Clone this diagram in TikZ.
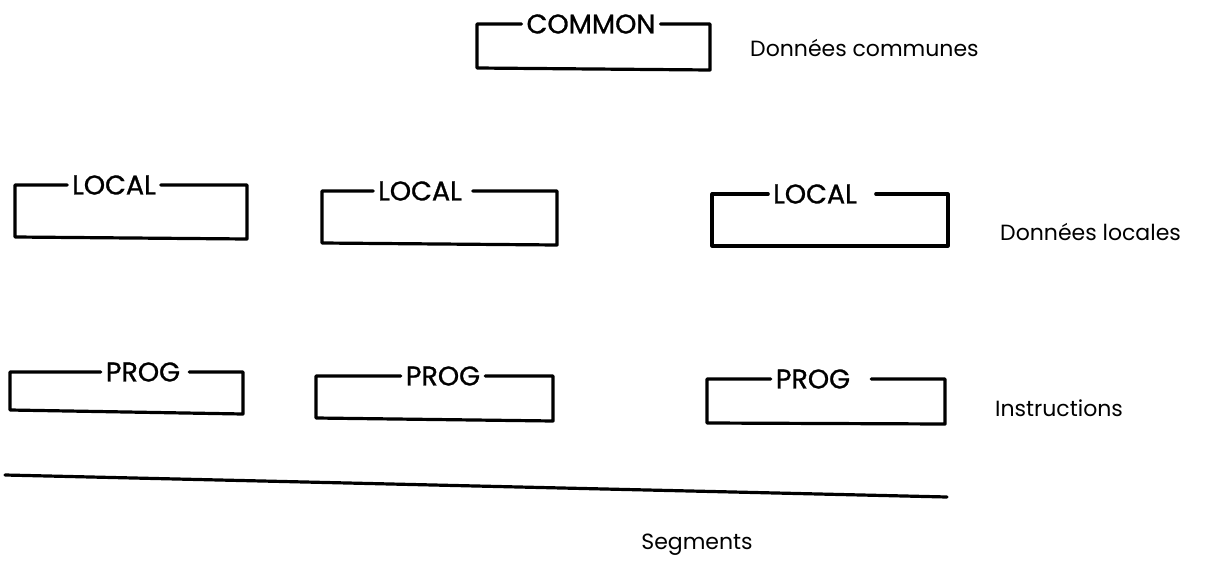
\documentclass[tikz,border=0pt]{standalone}
\usepackage{fontspec}
\setmainfont{Poppins}
\newfontfamily\boxfont{Poppins}[FakeBold=1]
\usepackage{tikz}
\usetikzlibrary{positioning}

\begin{document}
\begin{tikzpicture}[x=1pt,y=-1pt]
  \tikzset{BoxLabelStyle/.style = {
    inner sep     = 5pt,
    outer sep     = 0pt,
    text          = black,
    font          = \boxfont\fontsize{27}{30}\selectfont
    }
  }
  \tikzset{BoxEdgeStyle/.style = {
    draw          = black,
    line width    = 3.2pt,
    line join     = round,
    line cap      = round
    }
  }
  \tikzset{SideTextStyle/.style = {
    anchor        = west,
    inner sep     = 0pt,
    text          = black,
    font          = \fontsize{22}{26}\selectfont
    }
  }
  \useasboundingbox (0,0) rectangle (1208,570);

	% common block
	\node[BoxLabelStyle](common) at (591, 24) {COMMON};
	\draw[BoxEdgeStyle](common.west) -- (477, 24) -- (477, 68) -- (710, 70) -- (710, 24) -- (common.east);
	\node[SideTextStyle](dcom) at (750, 48) {Données communes};

	% local blocks
	\node[BoxLabelStyle](loc1) at (114, 185) {LOCAL};
	\node[BoxLabelStyle](loc2) at (420, 191) {LOCAL};
	\node[BoxLabelStyle](loc3) at (815, 194) {LOCAL};
	\draw[BoxEdgeStyle](loc1.west) -- (15, 185) -- (15, 237) -- (247, 239) -- (247, 185) -- (loc1.east);
	\draw[BoxEdgeStyle](loc2.west) -- (322, 191) -- (322, 243) -- (557, 245) -- (557, 191) -- ([xshift=6pt]loc2.east);
	\draw[BoxEdgeStyle](loc3.west) -- (712, 194) -- (712, 246) -- (948, 246) -- (948, 194) -- ([xshift=14pt]loc3.east);
	\node[SideTextStyle](dloc) at (1000, 232) {Données locales};

	% prog blocks
	\node[BoxLabelStyle](prog1) at (143, 372) {PROG};
	\node[BoxLabelStyle](prog2) at (443, 376) {PROG};
	\node[BoxLabelStyle](prog3) at (813, 379) {PROG};
	\draw[BoxEdgeStyle](prog1.west) -- (10, 372) -- (10, 410) -- (243, 414) -- (243, 372) -- ([xshift=4pt]prog1.east);
	\draw[BoxEdgeStyle](prog2.west) -- (316, 376) -- (316, 418) -- (553, 421) -- (553, 376) -- (prog2.east);
	\draw[BoxEdgeStyle](prog3.west) -- (707, 379) -- (707, 423) -- (945, 424) -- (945, 379) -- ([xshift=16pt]prog3.east);
	\node[SideTextStyle](instr) at (995, 408) {Instructions};

	% segments
	\coordinate (segA) at (5, 475);
	\coordinate (segB) at (947, 497);
	\draw[BoxEdgeStyle](segA) -- (segB);
	\node[SideTextStyle, anchor=center](seg) at (697, 545) {Segments};

\end{tikzpicture}
\end{document}
